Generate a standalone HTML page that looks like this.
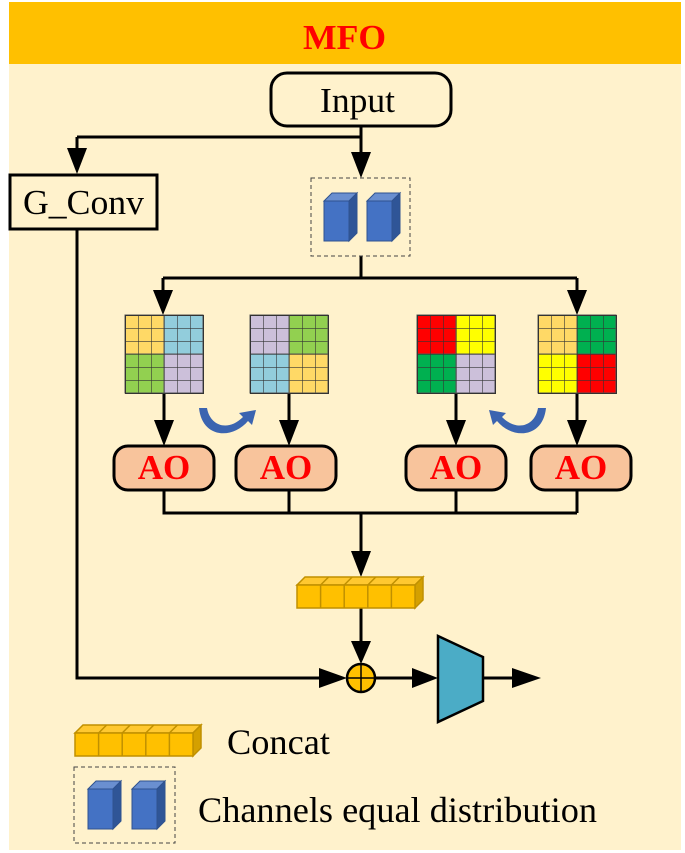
<!DOCTYPE html>
<html><head><meta charset="utf-8"><style>
html,body{margin:0;padding:0;background:#fff}
svg{display:block}
text{font-family:"Liberation Serif",serif}
</style></head><body>
<svg width="685" height="853" viewBox="0 0 685 853" xmlns="http://www.w3.org/2000/svg">
<defs>
<pattern id="gp" width="13" height="13" patternUnits="userSpaceOnUse">
<path d="M0 0H13M0 0V13" stroke="#333" stroke-width="1.2" fill="none"/>
</pattern>
<g id="cube">
<polygon points="0,8 8,0 33,0 25,8" fill="#6a8fd0" stroke="#2f528f" stroke-width="1"/>
<polygon points="25,8 33,0 33,40 25,48" fill="#2f5597" stroke="#2f528f" stroke-width="1"/>
<rect x="0" y="8" width="25" height="40" fill="#4472c4" stroke="#2f528f" stroke-width="1"/>
</g>
<g id="bar">
<polygon points="0,8 8,0 126,0 118,8" fill="#ffc830" stroke="#c09000" stroke-width="1.5"/>
<polygon points="118,8 126,0 126,23 118,31" fill="#d4a000" stroke="#c09000" stroke-width="1.5"/>
<rect x="0" y="8" width="118" height="23" fill="#ffc000" stroke="#c09000" stroke-width="1.5"/>
<path d="M23.6 8V31M47.2 8V31M70.8 8V31M94.4 8V31M31.6 0L23.6 8M55.2 0L47.2 8M78.8 0L70.8 8M102.4 0L94.4 8" stroke="#c09000" stroke-width="1.5"/>
</g>
</defs>
<rect x="0" y="0" width="685" height="853" fill="#fff"/>
<rect x="9" y="2" width="672" height="848" fill="#fff2cc"/>
<rect x="9" y="2" width="672" height="62" fill="#ffc000"/>
<text x="303" y="49" font-size="35" font-weight="bold" fill="#ff0000" textLength="83" lengthAdjust="spacingAndGlyphs">MFO</text>

<rect x="271" y="73" width="180" height="53" rx="16" fill="#fff2cc" stroke="#000" stroke-width="3"/>
<text x="320" y="112" font-size="35" textLength="75" lengthAdjust="spacingAndGlyphs">Input</text>
<g stroke="#000" stroke-width="3" fill="none">
<path d="M361 126V137M77 137H361M77 137V150M361 137V155"/>
<path d="M77 229V678H330"/>
<path d="M361 256V278M163 278H577M163 278V295M577 278V295"/>
<path d="M164 393V420M289 393V420M456 393V420M577 393V420"/>
<path d="M164 490V513H577M289 490V513M456 490V513M577 490V513M361 513V555"/>
<path d="M361 608V645"/>
<path d="M375 678H418M483 678H515"/>
</g>
<g fill="#000">
<polygon points="67,148 87,148 77,174"/>
<polygon points="351,152 371,152 361,178"/>
<polygon points="153,290 173,290 163,315"/>
<polygon points="567,290 587,290 577,315"/>
<polygon points="154,420 174,420 164,446"/>
<polygon points="279,420 299,420 289,446"/>
<polygon points="446,420 466,420 456,446"/>
<polygon points="567,420 587,420 577,446"/>
<polygon points="351,551 371,551 361,577"/>
<polygon points="351,641 371,641 361,664"/>
<polygon points="319,668 319,688 347,678"/>
<polygon points="412,668 412,688 438,678"/>
<polygon points="512,668 512,688 541,678"/>
</g>
<rect x="10" y="175" width="147" height="54" fill="#fff2cc" stroke="#000" stroke-width="3"/>
<text x="23" y="214" font-size="35" textLength="121" lengthAdjust="spacingAndGlyphs">G_Conv</text>
<rect x="311" y="178" width="99" height="78" fill="none" stroke="#444" stroke-width="1" stroke-dasharray="4,3"/>
<use href="#cube" x="324" y="193"/>
<use href="#cube" x="367" y="193"/>

<g stroke="#555" stroke-width="1">
<g transform="translate(125,315)">
<rect x="0" y="0" width="39" height="39" fill="#ffd966"/><rect x="39" y="0" width="39" height="39" fill="#92cddc"/>
<rect x="0" y="39" width="39" height="39" fill="#92d050"/><rect x="39" y="39" width="39" height="39" fill="#ccc0da"/>
<rect width="78" height="78" fill="url(#gp)"/>
</g>
<g transform="translate(250,315)">
<rect x="0" y="0" width="39" height="39" fill="#ccc0da"/><rect x="39" y="0" width="39" height="39" fill="#92d050"/>
<rect x="0" y="39" width="39" height="39" fill="#92cddc"/><rect x="39" y="39" width="39" height="39" fill="#ffd966"/>
<rect width="78" height="78" fill="url(#gp)"/>
</g>
<g transform="translate(417,315)">
<rect x="0" y="0" width="39" height="39" fill="#ff0000"/><rect x="39" y="0" width="39" height="39" fill="#ffff00"/>
<rect x="0" y="39" width="39" height="39" fill="#00b050"/><rect x="39" y="39" width="39" height="39" fill="#ccc0da"/>
<rect width="78" height="78" fill="url(#gp)"/>
</g>
<g transform="translate(538,315)">
<rect x="0" y="0" width="39" height="39" fill="#ffd966"/><rect x="39" y="0" width="39" height="39" fill="#00b050"/>
<rect x="0" y="39" width="39" height="39" fill="#ffff00"/><rect x="39" y="39" width="39" height="39" fill="#ff0000"/>
<rect width="78" height="78" fill="url(#gp)"/>
</g>
</g>
<g stroke="#333" stroke-width="1" fill="none">
<rect x="125.5" y="315.5" width="78" height="78"/><rect x="250.5" y="315.5" width="78" height="78"/>
<rect x="417.5" y="315.5" width="78" height="78"/><rect x="538.5" y="315.5" width="78" height="78"/>
</g>

<g fill="#3b64b0">
<path d="M199 408 L207 408 C210 426 228 432 243 417 L239 413 L256 410 L252 425 L248 421 C232 440 202 438 199 408Z"/>
<path d="M546 408 L538 408 C535 426 517 432 502 417 L506 413 L489 410 L493 425 L497 421 C513 440 543 438 546 408Z"/>
</g>

<g stroke="#000" stroke-width="3" fill="#f8c49c">
<rect x="114" y="446" width="100" height="44" rx="14"/>
<rect x="236" y="446" width="100" height="44" rx="14"/>
<rect x="406" y="446" width="100" height="44" rx="14"/>
<rect x="531" y="446" width="100" height="44" rx="14"/>
</g>
<g font-size="35" font-weight="bold" fill="#ff0000" text-anchor="middle">
<text x="164" y="479">AO</text><text x="286" y="479">AO</text>
<text x="456" y="479">AO</text><text x="581" y="479">AO</text>
</g>

<use href="#bar" x="297" y="577"/>
<circle cx="361" cy="678" r="14" fill="#ffc000" stroke="#000" stroke-width="2.5"/>
<path d="M347 678H375M361 664V692" stroke="#000" stroke-width="1.5"/>
<polygon points="438,636 483,657 483,701 438,722" fill="#4bacc6" stroke="#000" stroke-width="2.5"/>

<use href="#bar" x="75" y="725"/>
<text x="227" y="754" font-size="36" textLength="103" lengthAdjust="spacingAndGlyphs">Concat</text>
<rect x="74" y="767" width="101" height="76" fill="none" stroke="#444" stroke-width="1" stroke-dasharray="4,3"/>
<use href="#cube" x="88" y="781"/>
<use href="#cube" x="132" y="781"/>
<text x="198" y="822" font-size="36" textLength="399" lengthAdjust="spacingAndGlyphs">Channels equal distribution</text>
</svg>
</body></html>
